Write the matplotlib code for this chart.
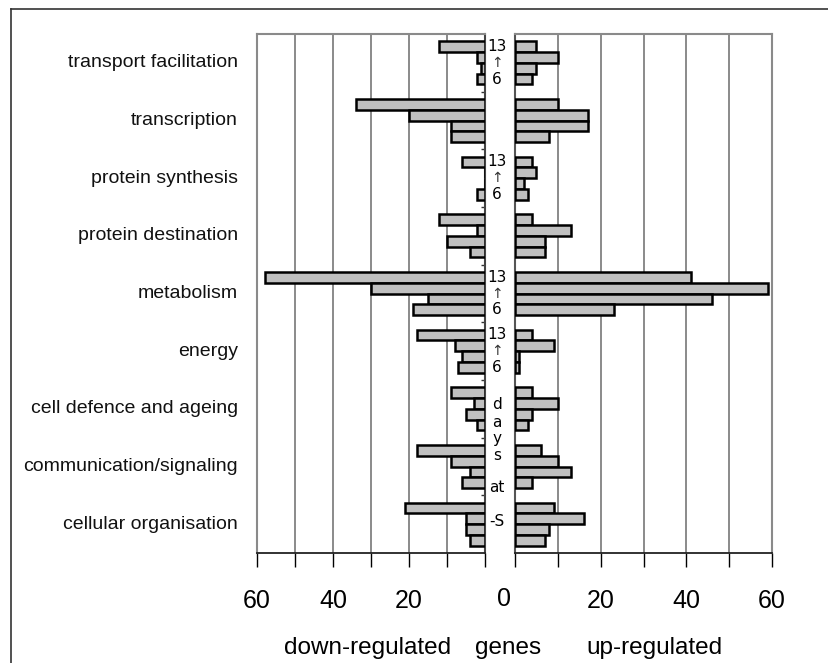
import matplotlib
matplotlib.use("Agg")
import matplotlib.pyplot as plt
from matplotlib import transforms
from matplotlib.lines import Line2D

plt.rcParams['font.family'] = ['Liberation Sans', 'DejaVu Sans']

categories = ["transport facilitation", "transcription", "protein synthesis",
              "protein destination", "metabolism", "energy",
              "cell defence and ageing", "communication/signaling",
              "cellular organisation"]

# down-regulated gene counts (top bar = day 13 ... bottom bar = day 6)
down_day13 = [12, 34, 6, 12, 58, 18, 9, 18, 21]
down_mid1 = [2, 20, 0, 2, 30, 8, 3, 9, 5]
down_mid2 = [1, 9, 0, 10, 15, 6, 5, 4, 5]
down_day6 = [2, 9, 2, 4, 19, 7, 2, 6, 4]

# up-regulated gene counts
up_day13 = [5, 10, 4, 4, 41, 4, 4, 6, 9]
up_mid1 = [10, 17, 5, 13, 59, 9, 10, 10, 16]
up_mid2 = [5, 17, 2, 7, 46, 1, 4, 13, 8]
up_day6 = [4, 8, 3, 7, 23, 1, 3, 4, 7]

x_ticks = [0, 10, 20, 30, 40, 50, 60]
x_labels = {20: "20", 40: "40", 60: "60"}

W, H = 829, 663
fig = plt.figure(figsize=(W / 100, H / 100), dpi=100)

def fx(px):
    return px / W

def fy(py):
    return 1 - py / H

top, bot = 34, 553
axL = fig.add_axes([fx(257), fy(bot), fx(485) - fx(257), fy(top) - fy(bot)])
axR = fig.add_axes([fx(515), fy(bot), fx(772) - fx(515), fy(top) - fy(bot)])

n = len(categories)
h = 0.1875
down = [down_day13, down_mid1, down_mid2, down_day6]
up = [up_day13, up_mid1, up_mid2, up_day6]

for ax, series in ((axL, down), (axR, up)):
    for k, vals in enumerate(series):
        ys = [i + (k - 1.5) * h for i in range(n)]
        ax.barh(ys, vals, height=h, color='#c0c0c0', edgecolor='black',
                linewidth=1.8, zorder=3)
    ax.set_ylim(n - 0.5, -0.5)
    ax.set_xticks(x_ticks)
    ax.set_xticklabels([x_labels.get(t, "") for t in x_ticks], fontsize=18)
    ax.tick_params(axis='x', direction='out', length=10, width=1, pad=16,
                   colors='black')
    ax.grid(axis='x', color='#8a8a8a', linewidth=1.4, zorder=0)
    ax.set_axisbelow(True)
    for s in ax.spines.values():
        s.set_color('#8a8a8a')
        s.set_linewidth(1.5)
    ax.spines['bottom'].set_color('#222222')
    ax.spines['bottom'].set_linewidth(1.3)

axL.set_xlim(60, 0)
axR.set_xlim(0, 60)
axL.spines['right'].set_color('#444444')
axR.spines['left'].set_color('#555555')

# small boundary ticks on the zero line of the left panel
boundaries = [i + 0.5 for i in range(n - 1)]
axL.yaxis.tick_right()
axL.set_yticks(boundaries)
axL.set_yticklabels([])
axL.tick_params(axis='y', direction='in', length=3, width=1, colors='#333333')
axR.set_yticks([])

# category labels
trans = transforms.blended_transform_factory(fig.transFigure, axL.transData)
for i, c in enumerate(categories):
    fig.text(fx(238), i, c, transform=trans, ha='right', va='center',
             fontsize=14, color='#111111')

# middle annotation column
xm = fx(497)
for i in (0, 2, 4, 5):
    fig.text(xm, i - 1.5 * h, "13", transform=trans, ha='center', va='center',
             fontsize=11, family='DejaVu Sans')
    fig.text(xm, i, "\u2191", transform=trans, ha='center', va='center',
             fontsize=10, family='DejaVu Sans', color='#333333')
    fig.text(xm, i + 1.5 * h, "6", transform=trans, ha='center', va='center',
             fontsize=11, family='DejaVu Sans')
for txt, yv in (("d", 5.93), ("a", 6.24), ("y", 6.52), ("s", 6.81),
                ("at", 7.37), ("-S", 7.95)):
    fig.text(xm, yv, txt, transform=trans, ha='center', va='center',
             fontsize=11, family='DejaVu Sans')

# the shared "0" label and bottom titles
fig.text(fx(504), fy(599), "0", ha='center', va='center', fontsize=18)
fig.text(fx(368), fy(648), "down-regulated", ha='center', va='center', fontsize=17.5)
fig.text(fx(508), fy(648), "genes", ha='center', va='center', fontsize=17.5)
fig.text(fx(654), fy(648), "up-regulated", ha='center', va='center', fontsize=17.5)

# outer frame (left and top edges)
fig.add_artist(Line2D([fx(11), fx(11)], [fy(9), 0], color='#333333', linewidth=1.2))
fig.add_artist(Line2D([fx(11), 1], [fy(9), fy(9)], color='#333333', linewidth=1.2))

fig.savefig("out.png", dpi=100)
